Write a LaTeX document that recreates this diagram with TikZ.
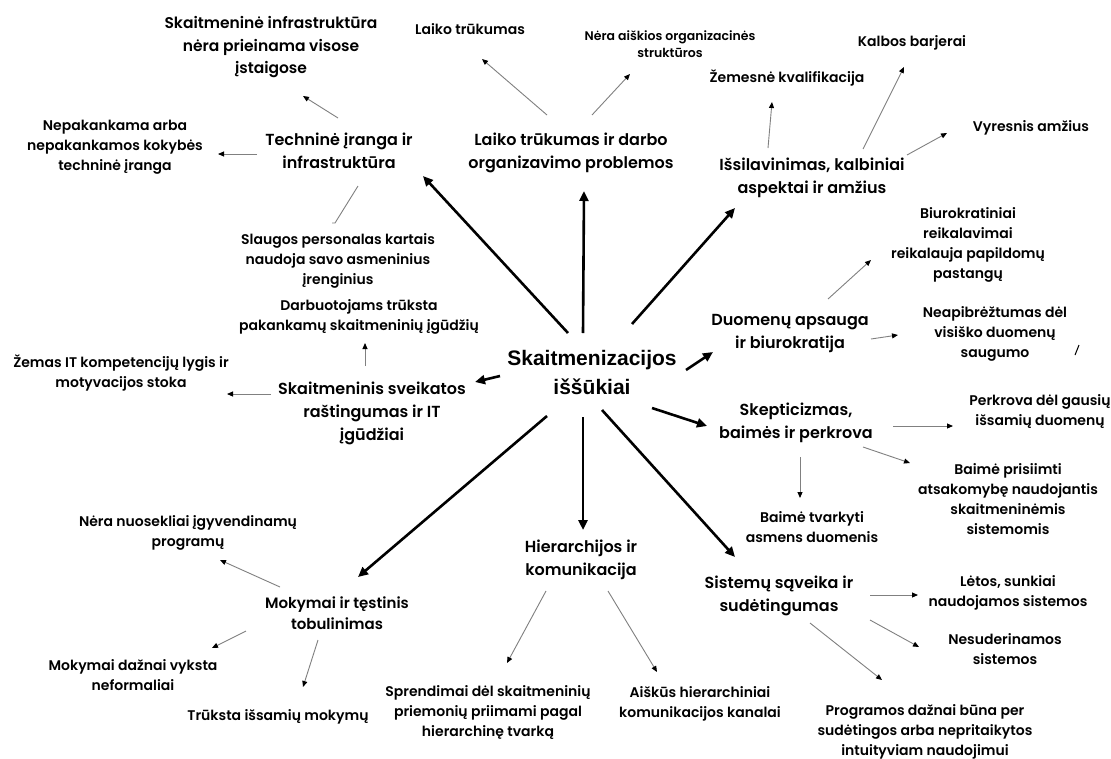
\documentclass[tikz,border=0pt]{standalone}
\usepackage{fontspec}
\setmainfont{Poppins}[BoldFont={Poppins SemiBold}]
\newfontfamily\hubfont{Liberation Sans}
\usetikzlibrary{arrows.meta}
\colorlet{LineGrey}{black!50}

\begin{document}
\begin{tikzpicture}
	[x=1pt, y=-1pt,
	every node/.style = {align=center, inner sep=0pt, text=black},
	hubNode/.style = {font=\hubfont\bfseries\fontsize{21}{29}\selectfont},
	mainNode/.style = {font=\bfseries\fontsize{16}{23}\selectfont},
	leafNode/.style = {font=\bfseries\fontsize{14}{20}\selectfont},
	bigLeaf/.style = {font=\bfseries\fontsize{15.5}{22.5}\selectfont},
	smallLeaf/.style = {font=\bfseries\fontsize{12.5}{17}\selectfont},
	bigArrow/.style = {line width=2.6pt, -{Triangle[length=10pt,width=9pt]}},
	smallArrow/.style = {draw=LineGrey, line width=0.9pt, -{Triangle[length=6pt,width=5pt,color=black]}}]
	\fill[white] (0,0) rectangle (1111,758);
	\useasboundingbox (0,0) rectangle (1111,758);
	% centre
	\node[hubNode] (hub) at (592,372) {Skaitmenizacijos\\iššūkiai};
	% main topics
	\node[mainNode] (tech) at (339,151) {Techninė įranga ir\\infrastruktūra};
	\node[mainNode] (time) at (571,152.5) {Laiko trūkumas ir darbo\\organizavimo problemos};
	\node[mainNode] (educ) at (812,178) {Išsilavinimas, kalbiniai\\aspektai ir amžius};
	\node[mainNode] (data) at (790,334) {Duomenų apsauga\\ir biurokratija};
	\node[mainNode] (skept) at (796,422.5) {Skepticizmas,\\baimės ir perkrova};
	\node[mainNode] (systems) at (779,595.5) {Sistemų sąveika ir\\sudėtingumas};
	\node[mainNode] (hier) at (581,560) {Hierarchijos ir\\komunikacija};
	\node[mainNode, font=\bfseries\fontsize{15}{21}\selectfont] (training) at (337,613.5) {Mokymai ir tęstinis\\tobulinimas};
	\node[mainNode] (literacy) at (372,413) {Skaitmeninis sveikatos\\raštingumas ir IT\\įgūdžiai};
	% leaves
	\node[bigLeaf] (infraLeaf) at (271,47.5) {Skaitmeninė infrastruktūra\\nėra prieinama visose\\įstaigose};
	\node[leafNode] (equipLeaf) at (115,147.5) {Nepakankama arba\\nepakankamos kokybės\\techninė įranga};
	\node[leafNode] (deviceLeaf) at (338,261) {Slaugos personalas kartais\\naudoja savo asmeninius\\įrenginius};
	\node[leafNode] (skillsLeaf) at (359,316.5) {Darbuotojams trūksta\\pakankamų skaitmeninių įgūdžių};
	\node[leafNode] (itLeaf) at (121,373) {Žemas IT kompetencijų lygis ir\\motyvacijos stoka};
	\node[leafNode] (timeLeaf) at (470,29) {Laiko trūkumas};
	\node[smallLeaf] (structLeaf) at (670,44.5) {Nėra aiškios organizacinės\\struktūros};
	\node[leafNode] (qualLeaf) at (787,78) {Žemesnė kvalifikacija};
	\node[leafNode] (langLeaf) at (912,43) {Kalbos barjerai};
	\node[leafNode] (ageLeaf) at (1031,128) {Vyresnis amžius};
	\node[leafNode] (bureauLeaf) at (968,245) {Biurokratiniai\\reikalavimai\\reikalauja papildomų\\pastangų};
	\node[leafNode] (uncertLeaf) at (995,334) {Neapibrėžtumas dėl\\visiško duomenų\\saugumo};
	\node[leafNode] (overloadLeaf) at (1040,412) {Perkrova dėl gausių\\išsamių duomenų};
	\node[leafNode] (respLeaf) at (1008,499.5) {Baimė prisiimti\\atsakomybę naudojantis\\skaitmeninėmis\\sistemomis};
	\node[leafNode] (personalLeaf) at (812,527) {Baimė tvarkyti\\asmens duomenis};
	\node[leafNode] (slowLeaf) at (1008,593) {Lėtos, sunkiai\\naudojamos sistemos};
	\node[leafNode] (incompLeaf) at (1005,649) {Nesuderinamos\\sistemos};
	\node[leafNode] (complexLeaf) at (925,731.5) {Programos dažnai būna per\\sudėtingos arba nepritaikytos\\intuityviam naudojimui};
	\node[leafNode] (decisionLeaf) at (488,712) {Sprendimai dėl skaitmeninių\\priemonių priimami pagal\\hierarchinę tvarką};
	\node[leafNode] (channelLeaf) at (700,704) {Aiškūs hierarchiniai\\komunikacijos kanalai};
	\node[leafNode] (programLeaf) at (188,533) {Nėra nuosekliai įgyvendinamų\\programų};
	\node[leafNode] (informalLeaf) at (133,675) {Mokymai dažnai vyksta\\neformaliai};
	\node[leafNode] (lackLeaf) at (278,717) {Trūksta išsamių mokymų};
	% thick arrows from the centre
	\draw[bigArrow] ([shift={(-24,-39)}]hub.center) -- ([shift={(84,25)}]tech.center);
	\draw[bigArrow] ([shift={(-9,-39)}]hub.center) -- ([shift={(13,38.5)}]time.center);
	\draw[bigArrow] ([shift={(40,-48)}]hub.center) -- ([shift={(-77,30)}]educ.center);
	\draw[bigArrow] ([shift={(94,-2)}]hub.center) -- ([shift={(-77,18)}]data.center);
	\draw[bigArrow] ([shift={(-92,4)}]hub.center) -- ([shift={(103,-31)}]literacy.center);
	\draw[bigArrow] ([shift={(60,36)}]hub.center) -- ([shift={(-89,3.5)}]skept.center);
	\draw[bigArrow] ([shift={(-45,44)}]hub.center) -- ([shift={(21,-36.5)}]training.center);
	\draw[bigArrow] ([shift={(-9,45)}]hub.center) -- ([shift={(2,-30)}]hier.center);
	\draw[bigArrow] ([shift={(10,38)}]hub.center) -- ([shift={(-44,-38.5)}]systems.center);
	% thin arrows to the leaves
	\draw[smallArrow] ([shift={(-1,-33)}]tech.center) -- ([shift={(32,48.5)}]infraLeaf.center);
	\draw[smallArrow] ([shift={(-82,3)}]tech.center) -- ([shift={(103,6.5)}]equipLeaf.center);
	\draw[draw=LineGrey, line width=0.9pt] ([shift={(19,35)}]tech.center) -- ([shift={(-3,-38)}]deviceLeaf.center) -- ++(-3,0);
	\draw[smallArrow] ([shift={(-7,-47)}]literacy.center) -- ([shift={(6,26.5)}]skillsLeaf.center);
	\draw[smallArrow] ([shift={(-101,-19)}]literacy.center) -- ([shift={(106,21)}]itLeaf.center);
	\draw[smallArrow] ([shift={(-24,-37.5)}]time.center) -- ([shift={(12,30)}]timeLeaf.center);
	\draw[smallArrow] ([shift={(21,-37.5)}]time.center) -- ([shift={(-40,29.5)}]structLeaf.center);
	\draw[smallArrow] ([shift={(-44,-30)}]educ.center) -- ([shift={(-15,24)}]qualLeaf.center);
	\draw[smallArrow] ([shift={(51,-29)}]educ.center) -- ([shift={(-8,24)}]langLeaf.center);
	\draw[smallArrow] ([shift={(95,-23)}]educ.center) -- ([shift={(-84,5)}]ageLeaf.center);
	\draw[smallArrow] ([shift={(38,-35)}]data.center) -- ([shift={(-97,15)}]bureauLeaf.center);
	\draw[smallArrow] ([shift={(81,5)}]data.center) -- ([shift={(-97,1)}]uncertLeaf.center);
	\draw[smallArrow] ([shift={(97,3.5)}]skept.center) -- ([shift={(-87,14)}]overloadLeaf.center);
	\draw[smallArrow] ([shift={(67,24.5)}]skept.center) -- ([shift={(-98,-36.5)}]respLeaf.center);
	\draw[smallArrow] ([shift={(4,34.5)}]skept.center) -- ([shift={(-12,-29)}]personalLeaf.center);
	\draw[smallArrow] ([shift={(91,-0.5)}]systems.center) -- ([shift={(-90,2)}]slowLeaf.center);
	\draw[smallArrow] ([shift={(91,24.5)}]systems.center) -- ([shift={(-86,-2)}]incompLeaf.center);
	\draw[smallArrow] ([shift={(31,27.5)}]systems.center) -- ([shift={(-43,-51.5)}]complexLeaf.center);
	\draw[smallArrow] ([shift={(-35,31)}]hier.center) -- ([shift={(19,-49)}]decisionLeaf.center);
	\draw[smallArrow] ([shift={(27,31)}]hier.center) -- ([shift={(-43,-32)}]channelLeaf.center);
	\draw[smallArrow] ([shift={(-57,-26.5)}]training.center) -- ([shift={(32,27)}]programLeaf.center);
	\draw[smallArrow] ([shift={(-91,17.5)}]training.center) -- ([shift={(79,-27)}]informalLeaf.center);
	\draw[smallArrow] ([shift={(-19,26.5)}]training.center) -- ([shift={(25,-30)}]lackLeaf.center);
	% stray stroke next to the data leaf
	\draw[line width=1pt] ([shift={(80,21)}]uncertLeaf.center) -- ++(4,-10);
\end{tikzpicture}
\end{document}
